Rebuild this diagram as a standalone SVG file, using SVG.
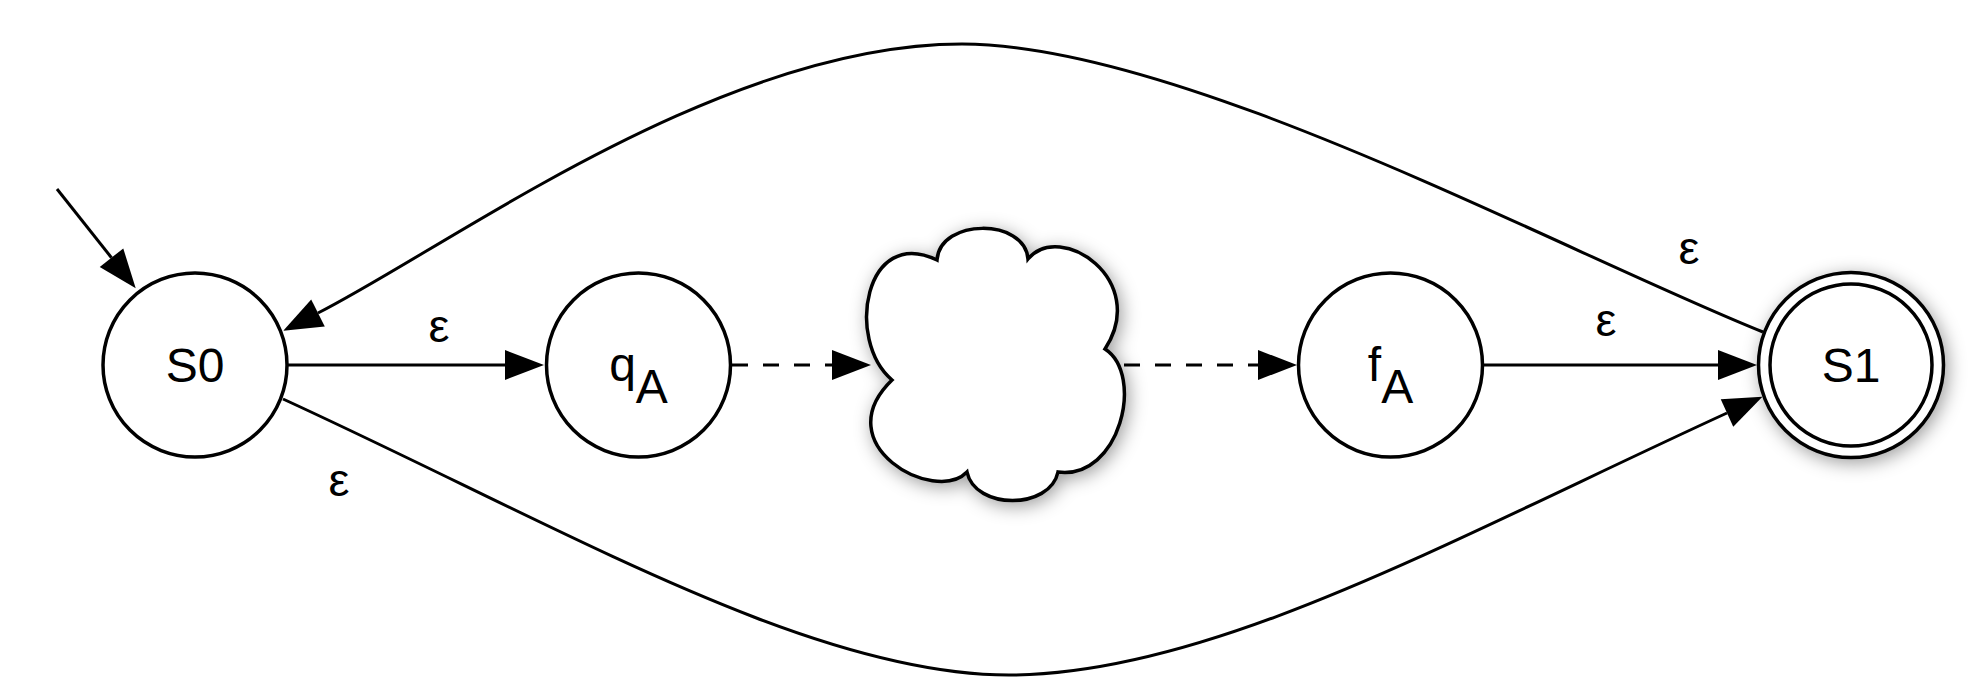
<svg xmlns="http://www.w3.org/2000/svg" width="1978" height="694" viewBox="0 0 1978 694">
  <style>
    .state { fill: #ffffff; stroke: #000000; stroke-width: 3.5; }
    .label { font-family: "Liberation Sans", Arial, Helvetica, sans-serif; font-size: 48px; fill: #000000; }
    .eps { font-family: "Liberation Sans", Arial, Helvetica, sans-serif; font-size: 47px; fill: #000000; }
    .edge { fill: none; stroke: #000000; stroke-width: 3; }
    .dashed { stroke-dasharray: 16 15; }
  </style>
  <defs>
    <marker id="arrow" markerUnits="userSpaceOnUse" markerWidth="40" markerHeight="32" refX="0" refY="15" orient="auto" overflow="visible">
      <path d="M0,0 L39,15 L0,30 Z" fill="#000000"/>
    </marker>
    <filter id="shadow" x="-30%" y="-30%" width="160%" height="160%">
      <feDropShadow dx="3" dy="4" stdDeviation="9" flood-color="#000000" flood-opacity="0.38"/>
    </filter>
  </defs>

  <!-- transitions -->
  <g id="connectors">
    <!-- start arrow into S0 -->
    <path class="edge" d="M57,189 L111.5,257.7" marker-end="url(#arrow)"/>
    <!-- S0 -> qA -->
    <path class="edge" d="M288,365 L505,365" marker-end="url(#arrow)"/>
    <!-- qA -> cloud -->
    <path class="edge dashed" d="M732,365 L832,365" marker-end="url(#arrow)"/>
    <!-- cloud -> fA -->
    <path class="edge dashed" d="M1124,365 L1258,365" marker-end="url(#arrow)"/>
    <!-- fA -> S1 -->
    <path class="edge" d="M1484,365 L1718,365" marker-end="url(#arrow)"/>
    <!-- S1 -> S0 (upper arc) -->
    <path class="edge" d="M1763,332 C1563,252 1182,44 962,44 C720,44 450,246 318,313" marker-end="url(#arrow)"/>
    <!-- S0 -> S1 (lower arc) -->
    <path class="edge" d="M283,399 C560,526 810,675 1009,675 C1210,675 1450,540 1727,413" marker-end="url(#arrow)"/>

    <text class="eps" x="439" y="342" text-anchor="middle">ε</text>
    <text class="eps" x="1606" y="336" text-anchor="middle">ε</text>
    <text class="eps" x="1689" y="264" text-anchor="middle">ε</text>
    <text class="eps" x="339" y="496" text-anchor="middle">ε</text>
  </g>

  <g id="S0">
    <circle class="state" cx="195" cy="365" r="92"/>
    <text class="label" x="195" y="382" text-anchor="middle">S0</text>
  </g>

  <g id="qA">
    <circle class="state" cx="638.5" cy="365" r="92"/>
    <text class="label" x="638.5" y="381" text-anchor="middle">q<tspan dy="22">A</tspan></text>
  </g>

  <g id="cloud">
    <path class="state" filter="url(#shadow)" d="M937,260 C940,218 1025,218 1028,259 C1060,220 1150,280 1105,349 C1145,375 1120,480 1058,472 C1050,510 975,510 967,472 C935,505 825,445 892,380 C845,340 865,225 937,260 Z"/>
  </g>

  <g id="fA">
    <circle class="state" cx="1390.5" cy="365" r="92"/>
    <text class="label" x="1390.5" y="381" text-anchor="middle">f<tspan dy="22">A</tspan></text>
  </g>

  <g id="S1">
    <circle class="state" cx="1851" cy="365" r="92.5" filter="url(#shadow)"/>
    <circle class="state" cx="1851" cy="365" r="81"/>
    <text class="label" x="1851" y="382" text-anchor="middle">S1</text>
  </g>
</svg>
